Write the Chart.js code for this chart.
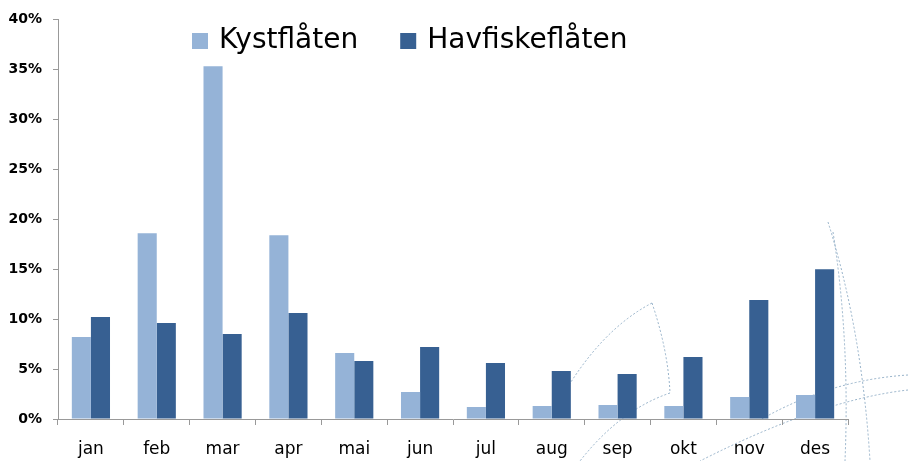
<!DOCTYPE html>
<html>
<head>
<meta charset="utf-8">
<script src="https://cdn.jsdelivr.net/npm/chart.js@4"></script>
<style>
    html, body { margin: 0; padding: 0; background: #fff; }
    #wrap { width: 908px; height: 461px; }
</style>
</head>
<body>
<div id="wrap"><canvas id="fleetChart" width="908" height="461"></canvas></div>
<script>
const months = ['jan', 'feb', 'mar', 'apr', 'mai', 'jun', 'jul', 'aug', 'sep', 'okt', 'nov', 'des'];
const kystflaten = [8.2, 18.6, 35.3, 18.4, 6.6, 2.7, 1.2, 1.3, 1.4, 1.3, 2.2, 2.4];
const havfiskeflaten = [10.2, 9.6, 8.5, 10.6, 5.8, 7.2, 5.6, 4.8, 4.5, 6.2, 11.9, 15.0];
const seriesNames = ['Kystflåten', 'Havfiskeflåten'];
const seriesColors = ['#95b3d7', '#376092'];

const fontFamily = '"Comic Sans MS", "DejaVu Sans", sans-serif';

// faint dashed decoration in the lower right corner
const decoration = {
    id: 'decoration',
    beforeDraw(chart) {
        const c = chart.ctx;
        c.save();
        c.strokeStyle = 'rgba(140, 170, 195, 0.9)';
        c.lineWidth = 1;
        c.setLineDash([2, 2]);
        const curve = (pts) => {
            c.beginPath();
            c.moveTo(pts[0], pts[1]);
            c.quadraticCurveTo(pts[2], pts[3], pts[4], pts[5]);
            c.stroke();
        };
        curve([828, 222, 862, 330, 870, 461]);
        curve([833, 232, 850, 340, 845, 461]);
        curve([652, 303, 600, 330, 560, 400]);
        curve([652, 303, 668, 350, 670, 393]);
        curve([670, 393, 620, 410, 580, 461]);
        curve([908, 375, 830, 380, 760, 420]);
        curve([908, 390, 820, 400, 700, 461]);
        c.restore();
    }
};

// legend drawn inside the plot area, as in the original
const innerLegend = {
    id: 'innerLegend',
    afterDraw(chart) {
        const c = chart.ctx;
        c.save();
        c.font = '28px ' + fontFamily;
        c.textBaseline = 'middle';
        let x = 192;
        const y = 41;
        chart.data.datasets.forEach((ds) => {
            c.fillStyle = ds.backgroundColor;
            c.fillRect(x, y - 8, 16, 16);
            c.fillStyle = '#000';
            c.fillText(ds.label, x + 27, y);
            x += 27 + c.measureText(ds.label).width + 42;
        });
        c.restore();
    }
};

const ctx = document.getElementById('fleetChart').getContext('2d');
new Chart(ctx, {
    type: 'bar',
    data: {
        labels: months,
        datasets: [
            { label: seriesNames[0], data: kystflaten, backgroundColor: seriesColors[0] },
            { label: seriesNames[1], data: havfiskeflaten, backgroundColor: seriesColors[1] }
        ]
    },
    options: {
        responsive: false,
        animation: false,
        layout: { padding: { top: 19, right: 60, left: 0, bottom: 0 } },
        datasets: {
            bar: { categoryPercentage: 0.58, barPercentage: 1.0 }
        },
        plugins: {
            legend: { display: false },
            tooltip: { enabled: false }
        },
        scales: {
            x: {
                grid: {
                    display: true,
                    drawOnChartArea: false,
                    drawTicks: true,
                    tickLength: 6,
                    color: '#999'
                },
                border: { color: '#999' },
                ticks: {
                    color: '#000',
                    font: { family: fontFamily, size: 17 },
                    padding: 14
                },
                afterFit(scale) { scale.height = 42; }
            },
            y: {
                min: 0,
                max: 40,
                grid: {
                    drawOnChartArea: false,
                    drawTicks: true,
                    tickLength: 5,
                    color: '#999'
                },
                border: { color: '#999' },
                ticks: {
                    stepSize: 5,
                    color: '#000',
                    padding: 11,
                    font: { family: fontFamily, size: 14, weight: 'bold' },
                    callback: (v) => v + '%'
                },
                afterFit(scale) { scale.width = 58; }
            }
        }
    },
    plugins: [decoration, innerLegend]
});
</script>
</body>
</html>
